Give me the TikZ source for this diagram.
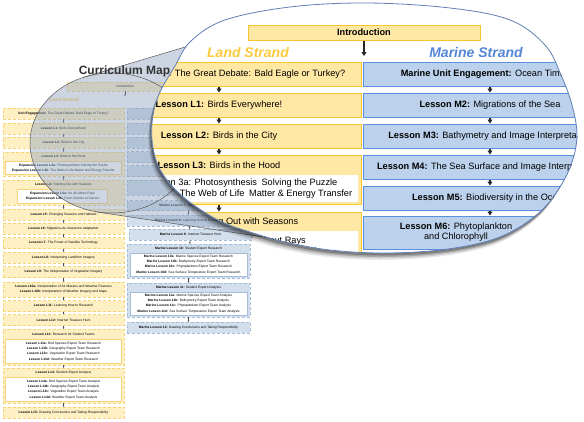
\documentclass[tikz,border=0pt]{standalone}
\usepackage{fontspec}
\setmainfont{Liberation Sans}
\usetikzlibrary{arrows.meta,positioning,calc}
\definecolor{landfill}{HTML}{FFE8A3}
\definecolor{landline}{HTML}{F7C52B}
\definecolor{seafill}{HTML}{BCD2EC}
\definecolor{sealine}{HTML}{5B8FE2}
\definecolor{landhd}{HTML}{FBCB3E}
\definecolor{seahd}{HTML}{5586D6}
\definecolor{tlandfill}{HTML}{FFF0C4}
\definecolor{tlandline}{HTML}{F6D47A}
\definecolor{tseafill}{HTML}{D3DFEC}
\definecolor{tsealine}{HTML}{A6BDD8}
\definecolor{tint}{HTML}{8EA2BE}
\definecolor{rim}{HTML}{5F7FB5}
\newcommand{\tinytext}{\fontsize{3.3}{5.2}\selectfont}
\newcommand{\lenstext}{\fontsize{9.2}{10.3}\selectfont}
\tikzset{
  tland/.style={draw=tlandline, densely dashed, line width=0.4pt, fill=tlandfill, minimum width=121pt, minimum height=11pt, inner sep=0pt, align=center, font=\tinytext},
  tsea/.style={draw=tsealine, densely dashed, line width=0.4pt, fill=tseafill, minimum width=123pt, minimum height=11pt, inner sep=0pt, align=center, font=\tinytext},
  tlandin/.style={draw=tlandline, line width=0.3pt, fill=white, minimum width=116pt, inner sep=0pt, align=center, font=\tinytext},
  tseain/.style={draw=tsealine, line width=0.3pt, fill=white, minimum width=117pt, inner sep=0pt, align=center, font=\tinytext},
  tlabel/.style={inner sep=0pt, font=\tinytext},
  tarrow/.style={-{Triangle[length=1.5pt,width=1.8pt]}, line width=0.4pt, black!70},
  bland/.style={draw=landline, line width=1pt, fill=landfill, minimum width=284pt, minimum height=24pt, inner sep=0pt, align=center, font=\lenstext},
  bsea/.style={draw=sealine, line width=1pt, fill=seafill, minimum width=254pt, minimum height=24pt, inner sep=0pt, align=center, font=\lenstext},
  bwhite/.style={fill=white, minimum width=278pt, inner sep=0pt, align=center, font=\lenstext},
  blabel/.style={inner sep=0pt, align=center, font=\lenstext},
  barrow/.style={-{Triangle[length=4pt,width=5pt]}, line width=1.4pt, black!85},
  lensoutline/.style={insert path={plot[smooth cycle, tension=0.6] coordinates {
    (367,3) (450,8) (510,20) (545,45) (561,75) (572,105) (577,136) (571,165) (558,190)
    (542,210) (518,228) (488,241) (440,250) (383,253) (330,250) (285,242) (250,232)
    (222,222) (198,208) (180,194) (167,180) (157,163) (152,140) (153,115) (160,92)
    (175,66) (191,41) (225,20) (290,7)}}},
  coneline/.style={draw=black!65, line width=0.5pt}
}

\begin{document}
\begin{tikzpicture}[x=1pt,y=-1pt]
  \useasboundingbox[fill=white] (0,0) rectangle (584,421);
  % small map, land strand
  \node[tland, minimum width=116pt, minimum height=9pt] (tintro) at (125,86.5) {Introduction};
  \coordinate (tsplit) at (125,96);
  \draw[tarrow] (tintro) -- (tsplit);
  \node[tlabel, text=landhd, font=\fontsize{5}{6}\selectfont\bfseries\itshape] (tlandtitle) at (64,100) {Land Strand};
  \node[tland] (tlue) at (63.5,113.5) {\textbf{Unit Engagement:} The Great Debate: Bald Eagle or Turkey?};
  \node[tland] (tl1) at (63.5,128.5) {\textbf{Lesson L1:} Birds Everywhere!};
  \node[tland] (tl2) at (63.5,142.5) {\textbf{Lesson L2:} Birds in the City};
  \node[tland, minimum height=24pt] (tl3) at (63.5,164) {};
  \node[tlabel] (tl3t) at (63.5,156) {\textbf{Lesson L3:} Birds in the Hood};
  \node[tlandin, minimum height=13pt] (tl3in) at (63.5,168) {\textbf{Expansion Lesson L3a:} Photosynthesis Solving the Puzzle\\\textbf{Expansion Lesson L3b:} The Web of Life Matter and Energy Transfer};
  \node[tland, minimum height=25pt] (tl4) at (63.5,192.5) {};
  \node[tlabel] (tl4t) at (63.5,184.5) {\textbf{Lesson L4:} Starting Out with Seasons};
  \node[tlandin, minimum width=90pt, minimum height=14pt] (tl4in) at (62.5,196) {\textbf{Expansion Lesson L4a:} It's All About Rays\\\textbf{Expansion Lesson L4b:} From Sunrise to Sunset};
  \node[tland] (tl5) at (63.5,214.5) {\textbf{Lesson L5:} Changing Seasons and Habitats};
  \node[tland] (tl6) at (63.5,228.5) {\textbf{Lesson L6:} Migration--An Awesome Adaptation};
  \node[tland] (tl7) at (63.5,243) {\textbf{Lesson L7:} The Power of Satellite Technology};
  \node[tland] (tl8) at (63.5,257.5) {\textbf{Lesson L8:} Interpreting Landform Imagery};
  \node[tland] (tl9) at (63.5,272) {\textbf{Lesson L9:} The Interpretation of Vegetation Imagery};
  \node[tland, minimum height=15pt] (tl10) at (63.5,289.5) {\textbf{Lesson L10a:} Interpretation of Air Masses and Weather Features\\\textbf{Lesson L10b:} Interpretation of Weather Imagery and Maps};
  \node[tland] (tl11) at (63.5,306) {\textbf{Lesson L11:} Learning How to Research};
  \node[tland] (tl12) at (63.5,320) {\textbf{Lesson L12:} Internet Treasure Hunt};
  \node[tland, minimum height=36pt] (tl13) at (63.5,347) {};
  \node[tlabel] (tl13t) at (63.5,334) {\textbf{Lesson L13:} Research for Student Teams};
  \node[tlandin, minimum height=24pt] (tl13in) at (63.5,351.5) {\textbf{Lesson L13a:} Bird Species Expert Team Research\\\textbf{Lesson L13b:} Geography Expert Team Research\\\textbf{Lesson L13c:} Vegetation Expert Team Research\\\textbf{Lesson L13d:} Weather Expert Team Research};
  \node[tland, minimum height=35pt] (tl14) at (63.5,385.5) {};
  \node[tlabel] (tl14t) at (63.5,373) {\textbf{Lesson L14:} Student Expert Analysis};
  \node[tlandin, minimum height=24pt] (tl14in) at (63.5,389.5) {\textbf{Lesson L14a:} Bird Species Expert Team Analysis\\\textbf{Lesson L14b:} Geography Expert Team Analysis\\\textbf{Lesson L14c:} Vegetation Expert Team Analysis\\\textbf{Lesson L14d:} Weather Expert Team Analysis};
  \node[tland] (tl15) at (63.5,412.5) {\textbf{Lesson L15:} Drawing Conclusions and Taking Responsibility};
  \foreach \a/\b in {tlue/tl1,tl1/tl2,tl2/tl3,tl3/tl4,tl4/tl5,tl5/tl6,tl6/tl7,tl7/tl8,tl8/tl9,tl9/tl10,tl10/tl11,tl11/tl12,tl12/tl13,tl13/tl14,tl14/tl15}
    \draw[tarrow] (\a) -- (\b);
  % small map, marine strand (upper boxes lie under the lens)
  \node[tsea] (tmue) at (188.5,113.5) {};
  \node[tsea] (tm2) at (188.5,128.5) {};
  \node[tsea] (tm3) at (188.5,142.5) {};
  \node[tsea] (tm4) at (188.5,157) {};
  \node[tsea] (tm5) at (188.5,171) {};
  \node[tsea, minimum height=15pt] (tm6) at (188.5,187.5) {};
  \node[tsea, minimum height=10pt] (tm7) at (188.5,205.5) {\textbf{Marine Lesson 7:} Making Connections};
  \node[tsea] (tm8) at (188.5,220.5) {\textbf{Marine Lesson 8:} Learning How to Research};
  \node[tsea] (tm9) at (190.5,234.5) {\textbf{Marine Lesson 9:} Internet Treasure Hunt};
  \node[tsea, minimum height=34pt] (tm10) at (188.5,261) {};
  \node[tlabel] (tm10t) at (188.5,248.5) {\textbf{Marine Lesson 10:} Student Expert Research};
  \node[tseain, minimum height=23pt] (tm10in) at (188.5,264.5) {\textbf{Marine Lesson 10a:} Marine Species Expert Team Research\\\textbf{Marine Lesson 10b:} Bathymetry Expert Team Research\\\textbf{Marine Lesson 10c:} Phytoplankton Expert Team Research\\\textbf{Marine Lesson 10d:} Sea Surface Temperature Expert Team Research};
  \node[tsea, minimum height=34pt] (tm11) at (188.5,300) {};
  \node[tlabel] (tm11t) at (188.5,287.5) {\textbf{Marine Lesson 11:} Student Expert Analysis};
  \node[tseain, minimum height=23pt] (tm11in) at (188.5,303.5) {\textbf{Marine Lesson 11a:} Marine Species Expert Team Analysis\\\textbf{Marine Lesson 11b:} Bathymetry Expert Team Analysis\\\textbf{Marine Lesson 11c:} Phytoplankton Expert Team Analysis\\\textbf{Marine Lesson 11d:} Sea Surface Temperature Expert Team Analysis};
  \node[tsea] (tm12) at (188.5,327.5) {\textbf{Marine Lesson 12:} Drawing Conclusions and Taking Responsibility};
  \foreach \a/\b in {tmue/tm2,tm2/tm3,tm3/tm4,tm4/tm5,tm5/tm6,tm6/tm7,tm7/tm8,tm8/tm9,tm9/tm10,tm10/tm11,tm11/tm12}
    \draw[tarrow] (\a) -- (\b);
  % lens cone
  \coordinate (cA) at (83,77.5);
  \coordinate (cB) at (262,24);
  \coordinate (cC) at (330,247);
  \coordinate (cD) at (97,212);
  \fill[tint, opacity=.45] (cA) -- (cB) -- (cC) -- (cD) arc[start angle=100.5, end angle=249.3, x radius=82, y radius=70] -- cycle;
  \draw[coneline] (112,143) ellipse [x radius=82, y radius=70];
  \draw[coneline] (cA) -- (cB) (cD) -- (cC);
  \node[inner sep=0pt, text=black!80, font=\fontsize{12}{14}\selectfont\bfseries] (maptitle) at (124.5,71) {Curriculum Map};
  % big lens
  \foreach \s/\o in {7/0.08,5.5/0.12,4/0.18,2.5/0.25}
    \fill[black, opacity=\o, shift={(-0.5*\s,\s)}, lensoutline];
  \fill[white, lensoutline];
  \begin{scope}
    \clip[lensoutline];
    \node[bland, minimum width=232pt, minimum height=15pt, font=\lenstext\bfseries] (intro) at (364,32.5) {Introduction};
    \coordinate (split) at (364,56);
    \draw[barrow] (intro) -- (split);
    \node[inner sep=0pt, text=landhd, font=\fontsize{14}{16}\selectfont\bfseries\itshape] (landtitle) at (248,52) {Land Strand};
    \node[inner sep=0pt, text=seahd, font=\fontsize{14}{16}\selectfont\bfseries\itshape] (seatitle) at (476,52) {Marine Strand};
    \node[bland] (lue) at (219,74) {\textbf{Unit Engagement:} The Great Debate: Bald Eagle or Turkey?};
    \node[bland] (l1) at (219,105) {\textbf{Lesson L1:} Birds Everywhere!};
    \node[bland] (l2) at (219,136) {\textbf{Lesson L2:} Birds in the City};
    \node[bland, minimum height=49pt] (l3) at (219,179.5) {};
    \node[blabel] (l3t) at (219,165) {\textbf{Lesson L3:} Birds in the Hood};
    \node[bwhite, minimum height=27pt] (l3in) at (219,188.5) {Expansion Lesson 3a: Photosynthesis\enspace Solving the Puzzle\\Expansion Lesson 3b: The Web of Life\enspace Matter \& Energy Transfer};
    \node[bland, minimum height=66pt] (l4) at (219,245) {};
    \node[blabel] (l4t) at (219,222) {\textbf{Lesson L4:} Starting Out with Seasons};
    \node[bwhite, minimum height=41pt] (l4in) at (219,251.5) {};
    \node[blabel] (l4a) at (219,246) {Expansion Lesson L4a: It's All About Rays\\Expansion Lesson L4b: From Sunrise to Sunset};
    \node[bsea] (mue) at (490,74) {\textbf{Marine Unit Engagement:} Ocean Timeline};
    \node[bsea] (m2) at (490,105) {\textbf{Lesson M2:} Migrations of the Sea};
    \node[bsea] (m3) at (490,136) {\textbf{Lesson M3:} Bathymetry and Image Interpretation};
    \node[bsea] (m4) at (490,167) {\textbf{Lesson M4:} The Sea Surface and Image Interpretation};
    \node[bsea] (m5) at (490,198) {\textbf{Lesson M5:} Biodiversity in the Ocean};
    \node[bsea, minimum height=33pt] (m6) at (490,232.5) {};
    \node[blabel] (m6t) at (456,232) {\textbf{Lesson M6:} Phytoplankton\\and Chlorophyll};
    \foreach \a/\b in {lue/l1,l1/l2,l2/l3,l3/l4,mue/m2,m2/m3,m3/m4,m4/m5,m5/m6}
      \draw[barrow] (\a) -- (\b);
  \end{scope}
  \draw[rim, line width=0.8pt, lensoutline];
\end{tikzpicture}
\end{document}
